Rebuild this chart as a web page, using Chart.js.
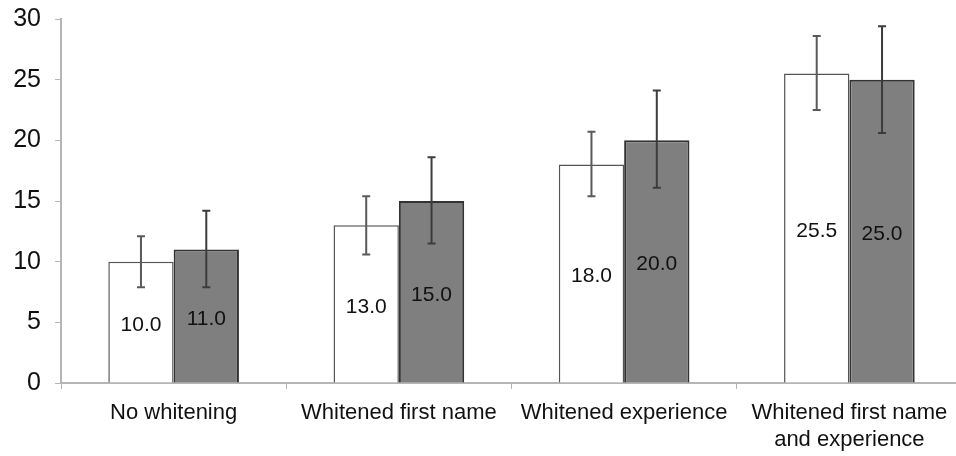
<!DOCTYPE html>
<html>
<head>
<meta charset="utf-8">
<script src="https://cdn.jsdelivr.net/npm/chart.js@4.4.1/dist/chart.umd.min.js"></script>
<style>
  html, body { margin: 0; padding: 0; background: #fff; overflow: hidden; }
  #wrap { width: 962px; height: 456px; }
</style>
</head>
<body>
<div id="wrap"><canvas id="barChart" width="962" height="456"></canvas></div>
<script>
// chart data
const categories = [
    'No whitening',
    'Whitened first name',
    'Whitened experience',
    ['Whitened first name', 'and experience']
];
const whiteValues = [10.0, 13.0, 18.0, 25.5];
const greyValues = [11.0, 15.0, 20.0, 25.0];
const whiteLow = [7.9, 10.6, 15.4, 22.5];
const whiteHigh = [12.1, 15.4, 20.7, 28.6];
const greyLow = [7.9, 11.5, 16.1, 20.6];
const greyHigh = [14.2, 18.6, 24.1, 29.4];
const yTicks = [0, 5, 10, 15, 20, 25, 30];

const errorRanges = [
    { low: whiteLow, high: whiteHigh, color: '#5a5a5a' },
    { low: greyLow, high: greyHigh, color: '#3c3c3c' }
];

// draws error bars and value labels on top of the bars
const barExtras = {
    id: 'barExtras',
    afterDatasetsDraw(chart) {
        const ctx = chart.ctx;
        const yScale = chart.scales.y;
        chart.data.datasets.forEach((ds, i) => {
            const meta = chart.getDatasetMeta(i);
            const err = errorRanges[i];
            meta.data.forEach((bar, j) => {
                // value label in the middle of the bar
                ctx.save();
                ctx.fillStyle = '#111111';
                ctx.font = '21px "Liberation Sans", Arial, sans-serif';
                ctx.textAlign = 'center';
                ctx.textBaseline = 'middle';
                ctx.fillText(ds.data[j].toFixed(1), bar.x, (bar.y + bar.base) / 2 + 3);
                ctx.restore();

                // error bar
                const yHi = yScale.getPixelForValue(err.high[j]);
                const yLo = yScale.getPixelForValue(err.low[j]);
                ctx.save();
                ctx.strokeStyle = err.color;
                ctx.lineWidth = 2;
                ctx.beginPath();
                ctx.moveTo(bar.x, yHi);
                ctx.lineTo(bar.x, yLo);
                ctx.moveTo(bar.x - 4, yHi);
                ctx.lineTo(bar.x + 4, yHi);
                ctx.moveTo(bar.x - 4, yLo);
                ctx.lineTo(bar.x + 4, yLo);
                ctx.stroke();
                ctx.restore();
            });
        });
    }
};

function initBarChart() {
    const ctx = document.getElementById('barChart').getContext('2d');
    return new Chart(ctx, {
        type: 'bar',
        data: {
            labels: categories,
            datasets: [{
                label: 'White',
                data: whiteValues,
                backgroundColor: '#ffffff',
                borderColor: '#555555',
                borderWidth: 1.5,
                categoryPercentage: 0.58,
                barPercentage: 1.0
            }, {
                label: 'Grey',
                data: greyValues,
                backgroundColor: '#7f7f7f',
                borderColor: '#333333',
                borderWidth: 2,
                categoryPercentage: 0.58,
                barPercentage: 1.0
            }]
        },
        options: {
            responsive: false,
            animation: false,
            layout: { padding: { top: 19, left: 0, right: 0, bottom: 0 } },
            scales: {
                x: {
                    grid: {
                        offset: true,
                        drawOnChartArea: false,
                        drawTicks: true,
                        tickLength: 6,
                        color: '#b5b5b5'
                    },
                    border: { color: '#b5b5b5', width: 2 },
                    ticks: {
                        color: '#111111',
                        font: { family: '"Liberation Sans", Arial, sans-serif', size: 22 },
                        maxRotation: 0,
                        autoSkip: false,
                        padding: 11
                    },
                    afterFit(scale) {
                        scale.height = 73;
                        scale.paddingLeft = 0;
                        scale.paddingRight = 0;
                    }
                },
                y: {
                    min: 0,
                    max: 30,
                    afterBuildTicks(scale) {
                        scale.ticks = yTicks.map(v => ({ value: v }));
                    },
                    grid: {
                        drawOnChartArea: false,
                        drawTicks: true,
                        tickLength: 6,
                        color: '#b5b5b5'
                    },
                    border: { color: '#b5b5b5', width: 2 },
                    ticks: {
                        color: '#111111',
                        font: { family: '"Liberation Sans", Arial, sans-serif', size: 25 },
                        padding: 14
                    },
                    afterFit(scale) {
                        scale.width = 61;
                        scale.paddingTop = 0;
                        scale.paddingBottom = 0;
                    }
                }
            },
            plugins: {
                legend: { display: false },
                tooltip: { enabled: false }
            }
        },
        plugins: [barExtras]
    });
}

initBarChart();
</script>
</body>
</html>
